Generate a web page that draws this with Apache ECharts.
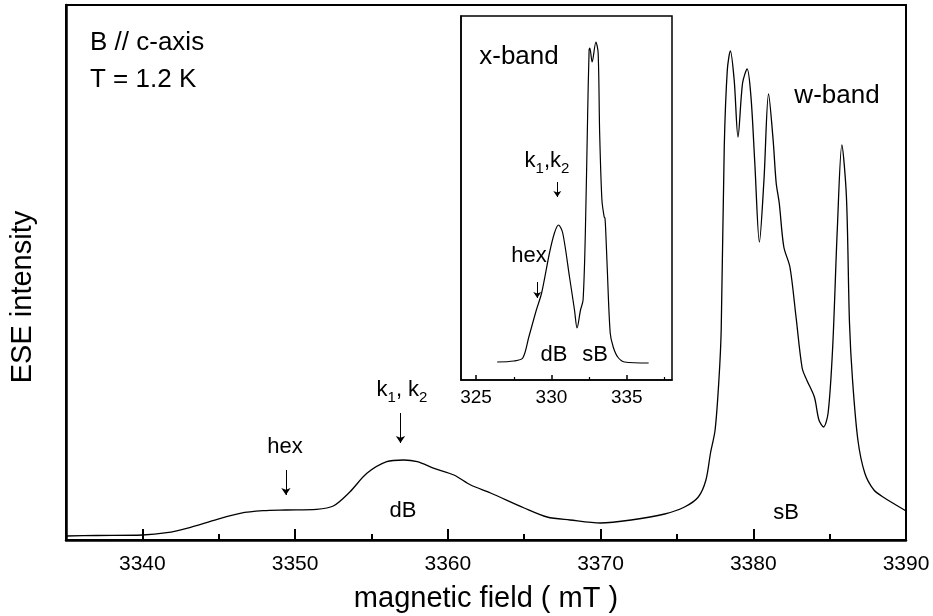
<!DOCTYPE html>
<html>
<head>
<meta charset="utf-8">
<script src="https://cdn.jsdelivr.net/npm/echarts@6/dist/echarts.min.js"></script>
<style>
html,body{margin:0;padding:0;background:#fff;}
#chart{width:933px;height:616px;}
</style>
</head>
<body>
<div id="chart"></div>
<script>
// W-band (main) spectrum: field (mT) and ESE intensity (arb.)
const fieldW = [3335, 3337, 3340, 3341.6, 3342.9, 3344.9, 3346.4, 3347.9, 3349.4, 3351.4, 3352.5, 3353.6, 3354.7, 3356.0, 3357.1, 3358.0, 3359.1, 3360.4, 3361.5, 3362.8, 3365.0, 3366.5, 3368.0, 3370.0, 3372.0, 3374.2, 3375.5, 3376.4, 3376.9, 3377.2, 3377.5, 3377.75, 3377.9, 3378.1, 3378.3, 3378.5, 3378.75, 3379.0, 3379.3, 3379.6, 3379.85, 3380.1, 3380.4, 3380.7, 3381.0, 3381.3, 3381.5, 3381.7, 3382.0, 3382.4, 3382.8, 3383.2, 3383.5, 3384.0, 3384.3, 3384.6, 3384.9, 3385.2, 3385.5, 3385.8, 3386.1, 3386.3, 3386.5, 3386.85, 3387.3, 3387.9, 3388.6, 3389.9, 3390];
const valW   = [4, 4.5, 5, 7.3, 11.7, 20.7, 26.7, 29.3, 30, 30.7, 34, 48.3, 66.7, 78.3, 80, 78.3, 71.7, 65, 55, 47, 32, 23, 20, 17, 20, 26, 33, 43, 60, 87, 110, 160, 210, 393, 470, 489, 460, 403, 457, 471, 443, 377, 298, 360, 446, 400, 357, 337, 293, 273, 223, 172, 160, 143, 120, 113, 127, 193, 310, 395, 343, 217, 160, 100, 67, 50, 42, 30, 29];

// X-band (inset) spectrum
const fieldX = [326.4, 327.5, 328.1, 328.5, 329.0, 329.35, 329.87, 330.2, 330.47, 330.75, 331.2, 331.53, 331.7, 331.93, 332.1, 332.25, 332.4, 332.5, 332.55, 332.7, 332.95, 333.1, 333.2, 333.35, 333.5, 333.55, 333.6, 333.7, 333.9, 334.1, 334.4, 334.85, 336.45];
const valX   = [18, 19, 22, 43, 70, 87, 127, 147, 155, 147, 103, 70, 52, 70, 80, 147, 263, 330, 332, 318, 338, 327, 247, 180, 163, 162, 150, 113, 47, 33, 23, 18, 17];

// tick values
const mainMajor = [3340, 3350, 3360, 3370, 3380, 3390];
const mainMinor = [3345, 3355, 3365, 3375, 3385];
const insetMajor = [325, 330, 335];
const insetMinor = [327.5, 332.5, 337.5];

const FONT = '"Liberation Sans", Arial, Helvetica, sans-serif';
const zip = (a, b) => a.map((v, i) => [v, b[i]]);
const only = (list) => (v) => (list.some(t => Math.abs(t - v) < 1e-6) ? String(v) : '');

const chart = echarts.init(document.getElementById('chart'), null, {renderer: 'canvas'});

const arrowLine = {
  silent: true,
  symbol: ['none', 'arrow'],
  symbolSize: 7,
  label: {show: false},
  lineStyle: {color: '#000', width: 1, type: 'solid'},
  emphasis: {disabled: true}
};

const option = {
  animation: false,
  backgroundColor: '#fff',
  grid: [
    {left: 66, top: 5, width: 840, height: 535, show: true, borderColor: '#000', borderWidth: 2,
     backgroundColor: 'transparent', containLabel: false, outerBoundsMode: 'none'},
    {left: 461, top: 16, width: 211, height: 364, show: true, borderColor: '#000', borderWidth: 1.5,
     backgroundColor: '#fff', containLabel: false, outerBoundsMode: 'none'}
  ],
  xAxis: [
    {gridIndex: 0, type: 'value', min: 3335, max: 3390, interval: 5, position: 'bottom',
     axisLine: {onZero: false, lineStyle: {color: '#000', width: 2.5}},
     axisTick: {inside: true, length: 11, customValues: mainMajor, lineStyle: {color: '#000', width: 2}},
     axisLabel: {formatter: only(mainMajor), fontSize: 21, color: '#000', margin: 14, fontFamily: FONT,
                 showMinLabel: true, showMaxLabel: true, hideOverlap: false},
     splitLine: {show: false},
     name: 'magnetic field ( mT )', nameLocation: 'middle', nameGap: 44,
     nameTextStyle: {fontSize: 29, color: '#000', fontFamily: FONT}},
    {gridIndex: 0, type: 'value', min: 3335, max: 3390, position: 'bottom',
     axisLine: {show: false},
     axisTick: {inside: true, length: 6, customValues: mainMinor, lineStyle: {color: '#000', width: 2}},
     axisLabel: {show: false}, splitLine: {show: false}},
    {gridIndex: 1, type: 'value', min: 324, max: 338, interval: 1, position: 'bottom',
     axisLine: {onZero: false, lineStyle: {color: '#000', width: 1.5}},
     axisTick: {inside: true, length: 5, customValues: insetMajor, lineStyle: {color: '#000', width: 1.5}},
     axisLabel: {formatter: only(insetMajor), fontSize: 19, color: '#000', margin: 8, fontFamily: FONT, hideOverlap: false},
     splitLine: {show: false}},
    {gridIndex: 1, type: 'value', min: 324, max: 338, position: 'bottom',
     axisLine: {show: false},
     axisTick: {inside: true, length: 3, customValues: insetMinor, lineStyle: {color: '#000', width: 1.2}},
     axisLabel: {show: false}, splitLine: {show: false}}
  ],
  yAxis: [
    {gridIndex: 0, type: 'value', min: 0, max: 535,
     axisLine: {show: true, onZero: false, lineStyle: {color: '#000', width: 2.5}},
     axisTick: {show: false}, axisLabel: {show: false}, splitLine: {show: false}},
    {gridIndex: 1, type: 'value', min: 0, max: 364,
     axisLine: {show: true, onZero: false, lineStyle: {color: '#000', width: 1.5}},
     axisTick: {show: false}, axisLabel: {show: false}, splitLine: {show: false}}
  ],
  series: [
    {type: 'line', xAxisIndex: 0, yAxisIndex: 0, data: zip(fieldW, valW),
     showSymbol: false, smooth: 0.3, lineStyle: {color: '#000', width: 1.3}, silent: true,
     markLine: Object.assign({}, arrowLine, {data: [
       [{coord: [3349.4, 70]}, {coord: [3349.4, 45]}],
       [{coord: [3356.9, 127]}, {coord: [3356.9, 97]}]
     ]})},
    {type: 'line', xAxisIndex: 2, yAxisIndex: 1, data: zip(fieldX, valX), z: 5,
     showSymbol: false, smooth: 0.3, lineStyle: {color: '#000', width: 1.2}, silent: true,
     markLine: Object.assign({}, arrowLine, {symbolSize: 6, data: [
       [{coord: [330.39, 198]}, {coord: [330.39, 183]}],
       [{coord: [329.06, 98]}, {coord: [329.06, 82]}]
     ]})}
  ],
  graphic: []
};

function txt(x, y, text, size, align, rich) {
  const s = {text: text, x: 0, y: 0, fill: '#000', font: size + 'px ' + FONT,
             align: align || 'center', verticalAlign: 'middle'};
  if (rich) s.rich = rich;
  return {type: 'text', z: 100, x: x, y: y, style: s};
}
function kRich(size, sub) {
  return {
    a: {fontSize: size, fontFamily: FONT, fill: '#000', lineHeight: size + 4, verticalAlign: 'top'},
    b: {fontSize: sub, fontFamily: FONT, fill: '#000', lineHeight: sub + 2, verticalAlign: 'bottom'}
  };
}

const yTitle = txt(23, 297, 'ESE intensity', 29);
yTitle.rotation = Math.PI / 2;

option.graphic = [
  yTitle,
  txt(90, 43, 'B // c-axis', 26, 'left'),
  txt(90, 80, 'T = 1.2 K', 26, 'left'),
  txt(837, 96, 'w-band', 26),
  txt(519, 57, 'x-band', 26),
  txt(285, 447, 'hex', 22),
  txt(403, 511, 'dB', 22),
  txt(786, 513, 'sB', 22),
  txt(402, 392, '{a|k}{b|1}{a|, k}{b|2}', 22, 'center', kRich(22, 15)),
  txt(547, 163, '{a|k}{b|1}{a|,k}{b|2}', 22, 'center', kRich(22, 15)),
  txt(529, 256, 'hex', 22),
  txt(554, 355, 'dB', 22),
  txt(595, 355, 'sB', 22)
];

chart.setOption(option);
</script>
</body>
</html>
